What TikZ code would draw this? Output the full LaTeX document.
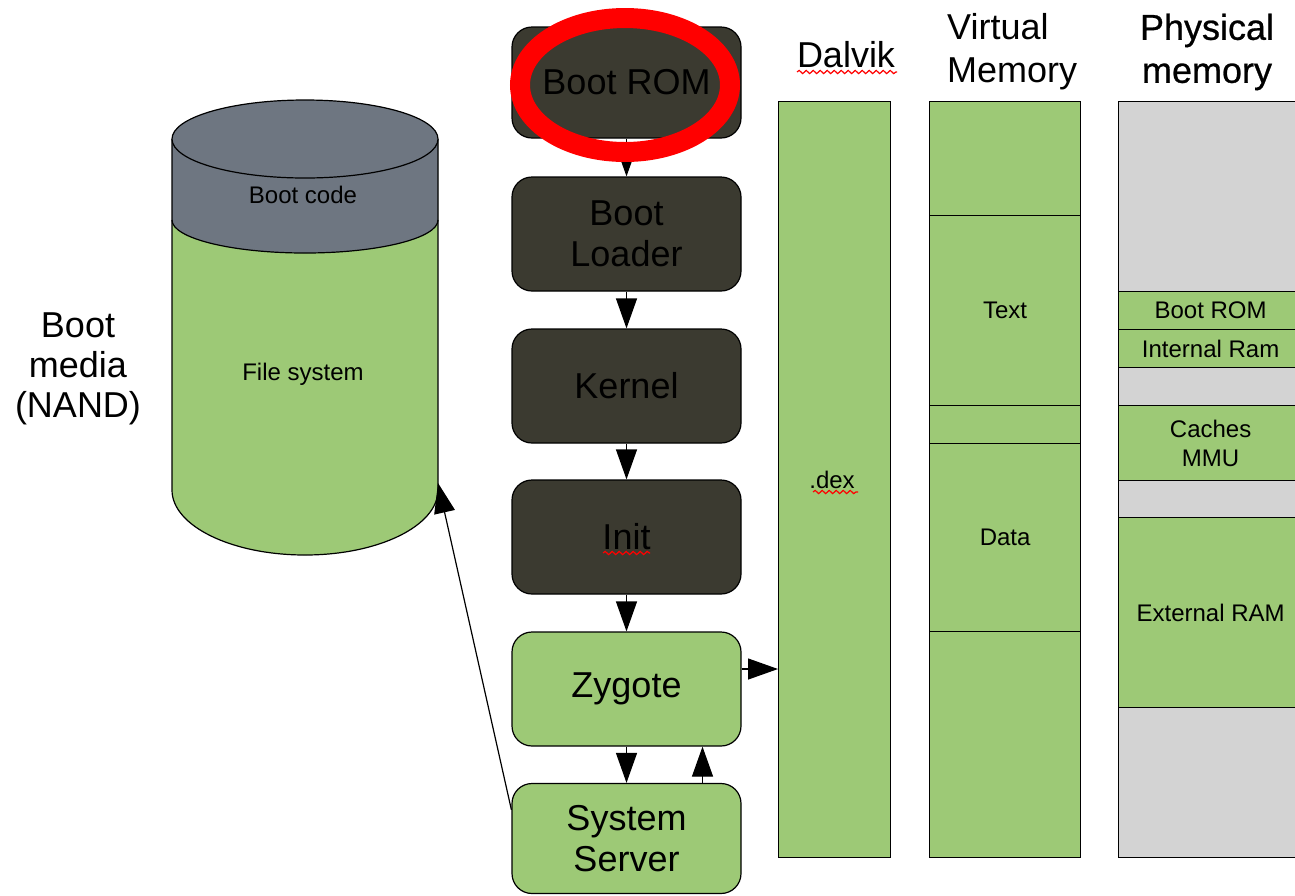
\documentclass[tikz,border=0pt]{standalone}
\usepackage{fontspec}
\setmainfont{Liberation Sans}
\newfontfamily\semibold[FakeBold=0.7]{Liberation Sans}
\usetikzlibrary{arrows.meta,decorations.pathmorphing}
\definecolor{darkbox}{RGB}{59,58,48}
\definecolor{grn}{RGB}{157,201,118}
\definecolor{lgray}{RGB}{211,211,211}
\definecolor{cylgray}{RGB}{110,118,129}
\newcommand{\bigf}{\fontsize{36}{41}\selectfont}
\newcommand{\smallf}{\fontsize{24}{29}\selectfont}
\begin{document}
\begin{tikzpicture}[x=1pt,y=-1pt,
  stage/.style={draw=black, line width=1.2pt, rounded corners=20pt, minimum width=229pt,
    font=\bigf, align=center, inner sep=0pt, text=black},
  darkstage/.style={stage, fill=darkbox},
  grnstage/.style={stage, fill=grn},
  seg/.style={draw=black, line width=1.2pt, inner sep=0pt, font=\smallf, align=center, anchor=north west},
  hdr/.style={font=\fontsize{36}{43}\selectfont, inner sep=0pt},
  arr/.style={line width=1.2pt, -{Triangle[length=30pt,width=21pt]}},
  squig/.style={red, line width=1.2pt, decorate, decoration={snake, amplitude=1.6pt, segment length=7pt}}]
\useasboundingbox (0,0) rectangle (1295,895);
\clip (0,0) rectangle (1295,895);

% Boot media cylinder
\fill[grn] (172,139) -- (172,490) arc[start angle=180,end angle=0,x radius=133,y radius=65] -- (438,139) -- cycle;
\fill[cylgray] (172,139) -- (172,220) arc[start angle=180,end angle=0,x radius=133,y radius=33] -- (438,139) -- cycle;
\draw[line width=1.2pt] (172,220) arc[start angle=180,end angle=0,x radius=133,y radius=33];
\draw[line width=1.2pt] (172,139) -- (172,490) arc[start angle=180,end angle=0,x radius=133,y radius=65] -- (438,139);
\draw[line width=1.2pt, fill=cylgray] (305,139) ellipse [x radius=133, y radius=39];
\node[font=\smallf, inner sep=0pt] (bootcode) at (303,195) {Boot code};
\node[font=\smallf, inner sep=0pt] (fs) at (303,374) {File system};
\coordinate (cylside) at (438,483);
\node[font=\fontsize{36}{40}\selectfont, align=center, inner sep=0pt] (media) at (78,369) {Boot\\media\\(NAND)};

% Boot stages
\node[darkstage, minimum height=111pt] (rom) at (626.5,82.5) {Boot ROM};
\node[darkstage, minimum height=114pt] (loader) at (626.5,234) {Boot\\Loader};
\node[darkstage, minimum height=114pt] (kernel) at (626.5,386) {Kernel};
\node[darkstage, minimum height=114pt] (init) at (626.5,537) {Init};
\node[grnstage, minimum height=114pt] (zyg) at (626.5,689) {Zygote};
\node[grnstage, minimum height=110pt] (ss) at (626.5,838.5) {System\\Server};

% Dalvik column
\node[seg, fill=grn, minimum width=112pt, minimum height=756pt] (dalvik) at (778,101) {};
\node[font=\smallf, inner sep=0pt] (dex) at (832,480) {.dex};
\node[hdr] (dalvikh) at (846,55) {Dalvik};

% Virtual memory column
\node[seg, fill=grn, minimum width=151pt, minimum height=114pt] (vm1) at (929,101) {};
\node[seg, fill=grn, minimum width=151pt, minimum height=190pt] (vm2) at (929,215) {Text};
\node[seg, fill=grn, minimum width=151pt, minimum height=38pt] (vm3) at (929,405) {};
\node[seg, fill=grn, minimum width=151pt, minimum height=188pt] (vm4) at (929,443) {Data};
\node[seg, fill=grn, minimum width=151pt, minimum height=226pt] (vm5) at (929,631) {};
\node[hdr, align=left, anchor=west] (vmh) at (947,52) {Virtual\\Memory};

% Physical memory column
\node[seg, fill=lgray, minimum width=184pt, minimum height=190pt] (pm1) at (1118,101) {};
\node[seg, fill=grn, minimum width=184pt, minimum height=38pt] (pm2) at (1118,291) {Boot ROM};
\node[seg, fill=grn, minimum width=184pt, minimum height=38pt] (pm3) at (1118,329) {Internal Ram};
\node[seg, fill=lgray, minimum width=184pt, minimum height=38pt] (pm4) at (1118,367) {};
\node[seg, fill=grn, minimum width=184pt, minimum height=75pt] (pm5) at (1118,405) {Caches\\MMU};
\node[seg, fill=lgray, minimum width=184pt, minimum height=37pt] (pm6) at (1118,480) {};
\node[seg, fill=grn, minimum width=184pt, minimum height=190pt] (pm7) at (1118,517) {External RAM};
\node[seg, fill=lgray, minimum width=184pt, minimum height=150pt] (pm8) at (1118,707) {};
\node[hdr, font=\semibold\fontsize{36}{43}\selectfont, align=center] (pmh) at (1207,52) {Physical\\memory};

% Connectors
\draw[arr] (rom) -- (loader);
\draw[arr] (loader) -- (kernel);
\draw[arr] (kernel) -- (init);
\draw[arr] (init) -- (zyg);
\draw[arr] (zyg) -- (ss);
\draw[arr] ([xshift=76pt]ss.north) -- ([xshift=76pt]zyg.south);
\coordinate (za) at ([yshift=20pt]zyg.east);
\draw[arr] (za) -- (za -| dalvik.west);
\draw[arr] (ss.166) -- (cylside);

% Highlight
\draw[red, line width=20pt] (625,85) ellipse [x radius=105, y radius=67];

% Spell-check squiggles
\draw[squig] (797,72) -- (897,72);
\draw[squig] (813,492) -- (858,492);
\draw[squig] (603,553) -- (650,553);
\end{tikzpicture}
\end{document}
